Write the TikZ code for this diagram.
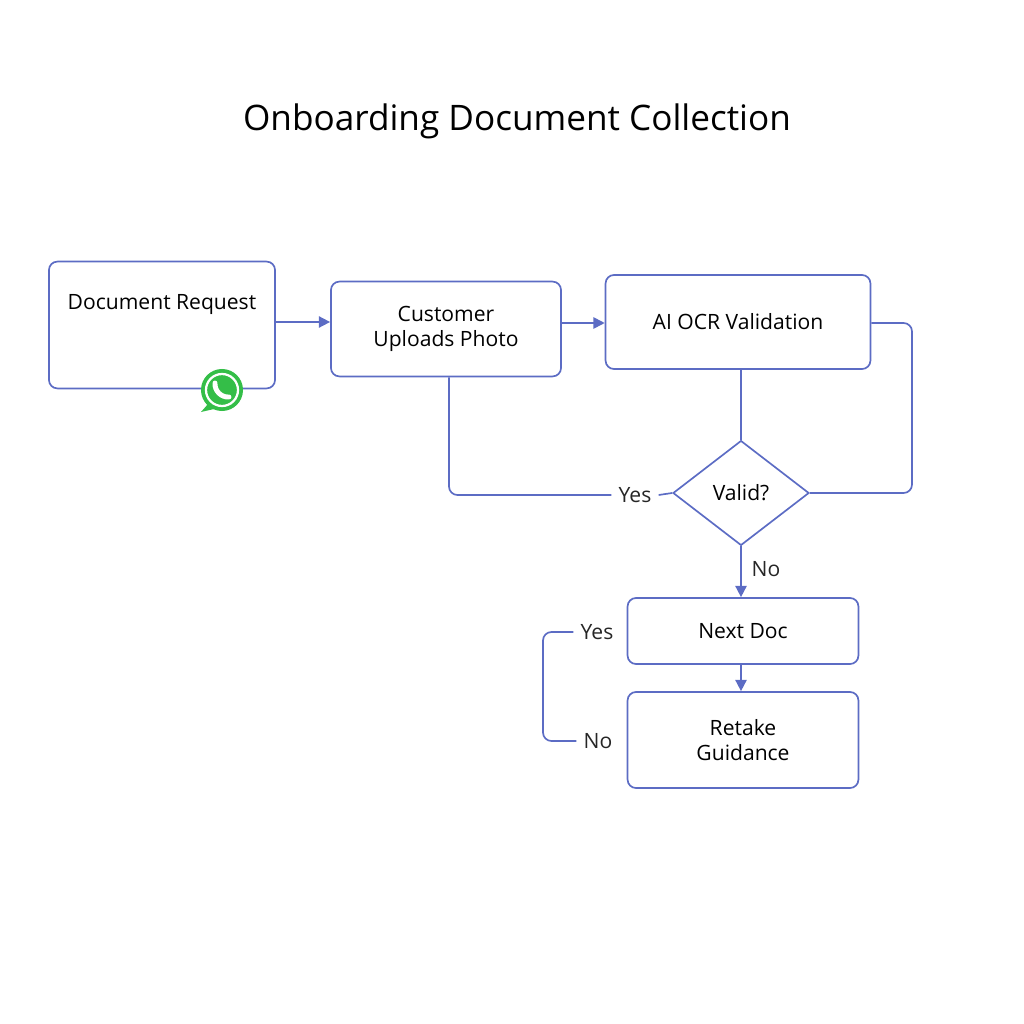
\documentclass[tikz,border=0pt]{standalone}
\usepackage{fontspec}
\setmainfont{Open Sans}
\usetikzlibrary{shapes.geometric,arrows.meta,positioning}
\definecolor{edgeblue}{RGB}{92,108,196}
\definecolor{wagreen}{RGB}{52,190,72}
\tikzset{
  procbox/.style={draw=edgeblue, line width=1.2pt, rounded corners=6pt, fill=white, align=center, font=\fontsize{15}{18}\selectfont},
  decide/.style={draw=edgeblue, line width=1.2pt, diamond, aspect=1.3, minimum width=3.4cm, minimum height=2.62cm, inner sep=0pt, font=\fontsize{15}{18}\selectfont},
  flow/.style={draw=edgeblue, line width=1.2pt, -{Triangle[length=8pt,width=8pt]}},
  link/.style={draw=edgeblue, line width=1.2pt, rounded corners=6pt},
  tag/.style={font=\fontsize{15}{18}\selectfont, text=black!85, inner sep=5pt}
}
\begin{document}
\begin{tikzpicture}[x=0.025cm,y=-0.025cm]
  \useasboundingbox (0,0) rectangle (1024,1024);
  \node[font=\fontsize{25}{30}\selectfont] (title) at (517,121) {Onboarding Document Collection};
  % boxes
  \node[procbox, minimum width=5.65cm, minimum height=3.17cm] (req) at (162,325) {};
  \node[font=\fontsize{15}{18}\selectfont] (reqtxt) at (162,305) {Document Request};
  \node[procbox, minimum width=5.75cm, minimum height=2.37cm] (upload) at (446,329) {Customer\\Uploads Photo};
  \node[procbox, minimum width=6.62cm, minimum height=2.35cm] (ocr) at (738,322) {AI OCR Validation};
  \node[decide] (valid) at (741,493) {Valid?};
  \node[procbox, minimum width=5.77cm, minimum height=1.65cm] (next) at (743,631) {Next Doc};
  \node[procbox, minimum width=5.77cm, minimum height=2.4cm] (retake) at (743,740) {Retake\\Guidance};
  % whatsapp badge
  \fill[wagreen] (208,404) -- (201,412) -- (214,409) -- cycle;
  \node[circle, fill=wagreen, minimum size=1.05cm, inner sep=0pt] (wa) at (222,390) {};
  \node[circle, draw=white, line width=1.6pt, minimum size=0.8cm, inner sep=0pt] (waring) at (222,390) {};
  \draw[white, line width=3.5pt, line cap=round] (215,383) to[bend right=50] (229,397);
  % labels
  \node[tag] (yes1) at (635,495) {Yes};
  \node[tag] (no1) at (766,569) {No};
  \node[tag] (yes2) at (597,632) {Yes};
  \node[tag] (no2) at (598,741) {No};
  % connectors
  \draw[flow] (req.east |- 0,322) -- (upload.west |- 0,322);
  \draw[flow] (upload.east |- 0,323) -- (ocr.west |- 0,323);
  \draw[link] (ocr.south -| valid) -- (valid.north);
  \draw[link] (ocr.east |- 0,323) -| (912,493) -- (valid.east);
  \draw[link] (valid.west) -- (yes1.east);
  \draw[link] (yes1.west) -| (upload.south -| 449,0);
  \draw[flow] (valid.south) -- (next.north -| valid);
  \draw[flow] (next.south -| valid) -- (retake.north -| valid);
  \draw[link] (yes2.west) -| (543,741) -- (no2.west);
\end{tikzpicture}
\end{document}
